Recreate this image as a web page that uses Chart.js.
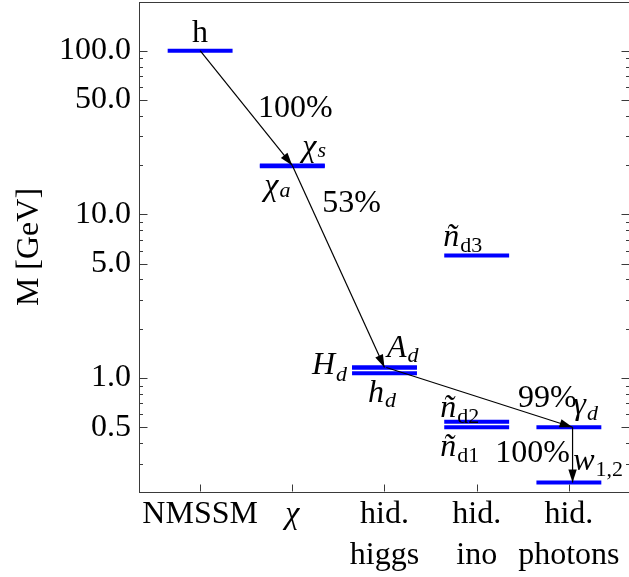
<!DOCTYPE html>
<html>
<head>
<meta charset="utf-8">
<script src="https://cdn.jsdelivr.net/npm/chart.js@4/dist/chart.umd.min.js"></script>
<style>
  html, body { margin: 0; padding: 0; background: #fff; overflow: hidden; width: 629px; height: 577px; }
  #wrap { width: 640px; height: 577px; position: relative; }
</style>
</head>
<body>
<div id="wrap"><canvas id="spectrum"></canvas></div>
<script>
// ---- data -------------------------------------------------------------
const sectors    = ['NMSSM', 'χ', ['hid.', 'higgs'], ['hid.', 'ino'], ['hid.', 'photons']];
const sectorPos  = [1, 2, 3, 4, 5];
const majorTicks = [0.5, 1, 5, 10, 50, 100];

// mass levels (GeV): sector index, mass, name [main, subscript, mainItalic, subItalic]
const levelSector = [0, 1, 1, 2, 2, 2, 3, 3, 3, 4, 4];
const levelMass   = [100, 19.9, 19.7, 1.16, 1.16, 1.07, 5.6, 0.54, 0.50, 0.50, 0.23];
const levelName   = [
  ['h', '', false, false],
  ['χ', 's', true, true],
  ['χ', 'a', true, true],
  ['H', 'd', true, true],
  ['A', 'd', true, true],
  ['h', 'd', true, true],
  ['ñ', 'd3', true, false],
  ['ñ', 'd2', true, false],
  ['ñ', 'd1', true, false],
  ['γ', 'd', true, true],
  ['w', '1,2', true, false]
];

// decay chain: parent level -> daughter level, branching ratio (%)
const decayFrom = [0, 1, 3, 9];
const decayTo   = [1, 3, 9, 10];
const branching = [100, 53, 99, 100];

// ---- layout / style ---------------------------------------------------
const SERIF = "'Liberation Serif', 'Times New Roman', 'DejaVu Serif', serif";
const BLUE = '#0000ff';
const FRAME = '#3a3a3a';
const BAR_HALF = 0.352;           // half length of a level bar, in sector units
// label offsets (px) from the bar centre to the text origin, plus subscript drop
const nameOffset = [
  [0, -9, 'center'], [10, -9, null, 1], [-28, 29, null, 2], [-72.5, 7, null, 7],
  [2.5, -10.5, null, 5], [-16.5, 29, null, 5],
  [-33.5, -10], [-36.5, -5], [-36.5, 28.5], [4.4, -13], [4.4, -12]
];
// ratio label offsets (px) from the parent bar centre
const ratioOffset = [[58, 66.3], [30, 47], [133.5, 39.5], [-73.6, 35]];
// small horizontal shift of the arrow ends (sector units): [start, end]
const arrowShift = [[0, 0], [0, 0], [0.02, 0.04], [0.04, 0.04]];

const levelX = i => sectorPos[levelSector[i]];

const datasets = [];
decayFrom.forEach((f, k) => {
  const t = decayTo[k];
  datasets.push({
    data: [{ x: levelX(f) + arrowShift[k][0], y: levelMass[f] },
           { x: levelX(t) + arrowShift[k][1], y: levelMass[t] }],
    borderColor: '#000', borderWidth: 1.2, pointRadius: 0, fill: false
  });
});
levelMass.forEach((m, i) => {
  datasets.push({
    data: [{ x: levelX(i) - BAR_HALF, y: m }, { x: levelX(i) + BAR_HALF, y: m }],
    borderColor: BLUE, borderWidth: 4, borderCapStyle: 'butt', pointRadius: 0, fill: false
  });
});

function drawRich(ctx, x, y, spec, align, drop) {
  const [main, sub, mi, si] = spec;
  const fMain = (mi ? 'italic ' : '') + '32px ' + SERIF;
  const fSub = (si ? 'italic ' : '') + '22px ' + SERIF;
  ctx.font = fMain;
  const w1 = ctx.measureText(main).width;
  let w2 = 0;
  if (sub) { ctx.font = fSub; w2 = ctx.measureText(sub).width; }
  const x0 = align === 'center' ? x - (w1 + w2) / 2 : x;
  ctx.textAlign = 'left';
  ctx.textBaseline = 'alphabetic';
  ctx.font = fMain;
  ctx.fillText(main, x0, y);
  if (sub) { ctx.font = fSub; ctx.fillText(sub, x0 + w1 + 1, y + (drop == null ? 6 : drop)); }
}

const decorations = {
  id: 'decorations',
  afterDatasetsDraw(chart) {
    const { ctx, scales: { x, y } } = chart;
    ctx.save();
    // arrow heads
    ctx.fillStyle = '#000';
    decayFrom.forEach((f, k) => {
      const t = decayTo[k];
      const x1 = x.getPixelForValue(levelX(f) + arrowShift[k][0]);
      const y1 = y.getPixelForValue(levelMass[f]);
      const x2 = x.getPixelForValue(levelX(t) + arrowShift[k][1]);
      const y2 = y.getPixelForValue(levelMass[t]);
      const ang = Math.atan2(y2 - y1, x2 - x1);
      const L = 13, W = 4.2;
      ctx.beginPath();
      ctx.moveTo(x2, y2);
      ctx.lineTo(x2 - L * Math.cos(ang) + W * Math.sin(ang), y2 - L * Math.sin(ang) - W * Math.cos(ang));
      ctx.lineTo(x2 - L * Math.cos(ang) - W * Math.sin(ang), y2 - L * Math.sin(ang) + W * Math.cos(ang));
      ctx.closePath();
      ctx.fill();
    });
    // level names
    ctx.fillStyle = '#000';
    levelMass.forEach((m, i) => {
      const px = x.getPixelForValue(levelX(i));
      const py = y.getPixelForValue(m);
      const [dx, dy, al, drop] = nameOffset[i];
      drawRich(ctx, px + dx, py + dy, levelName[i], al, drop);
    });
    // branching ratios
    decayFrom.forEach((f, k) => {
      const px = x.getPixelForValue(levelX(f));
      const py = y.getPixelForValue(levelMass[f]);
      drawRich(ctx, px + ratioOffset[k][0], py + ratioOffset[k][1], [branching[k] + '%', '', false, false]);
    });
    ctx.restore();
  },
  afterDraw(chart) {
    const { ctx, chartArea: a, scales: { x, y } } = chart;
    ctx.save();
    ctx.strokeStyle = FRAME;
    ctx.lineWidth = 1;
    const top = Math.round(a.top) + 0.5;
    const left = Math.round(a.left) + 0.5;
    const right = Math.round(a.right) - 0.5;
    const bottom = Math.round(a.bottom) - 0.5;
    ctx.beginPath();
    ctx.moveTo(left, top); ctx.lineTo(right, top);
    ctx.moveTo(right, top); ctx.lineTo(right, bottom);
    // inward ticks on the mass axes
    for (let e = -1; e <= 2; e++) {
      for (let n = 1; n <= 9; n++) {
        const v = n * Math.pow(10, e);
        if (v < y.min || v > y.max) continue;
        const major = majorTicks.some(t => Math.abs(t - v) < 1e-9);
        const len = major ? 8 : 3.5;
        const py = Math.round(y.getPixelForValue(v)) + 0.5;
        ctx.moveTo(left, py); ctx.lineTo(left + len, py);
        ctx.moveTo(right, py); ctx.lineTo(right - len, py);
      }
    }
    // inward ticks on the sector axis
    sectorPos.forEach(s => {
      const px = Math.round(x.getPixelForValue(s)) + 0.5;
      ctx.moveTo(px, bottom); ctx.lineTo(px, bottom - 7);
    });
    ctx.stroke();
    ctx.restore();
  }
};

new Chart(document.getElementById('spectrum'), {
  type: 'line',
  data: { datasets },
  plugins: [decorations],
  options: {
    responsive: true,
    maintainAspectRatio: false,
    animation: false,
    layout: { padding: { top: 2, right: 10, left: 0, bottom: 0 } },
    plugins: { legend: { display: false }, tooltip: { enabled: false } },
    scales: {
      x: {
        type: 'linear',
        min: 0.337, max: 5.663,
        grid: { display: false, drawTicks: false },
        border: { display: true, color: FRAME, width: 1 },
        afterBuildTicks: s => { s.ticks = sectorPos.map(v => ({ value: v })); },
        afterFit: s => { s.height = 85; s.paddingLeft = 0; s.paddingRight = 0; },
        ticks: {
          autoSkip: false, maxRotation: 0, minRotation: 0, padding: 2, color: '#000',
          font: ctx => ({ family: SERIF, size: 32, lineHeight: 1.28, style: ctx.index === 1 ? 'italic' : 'normal' }),
          callback: (v, i) => sectors[i]
        }
      },
      y: {
        type: 'logarithmic',
        min: 0.2012, max: 198.4,
        grid: { display: false, drawTicks: false },
        border: { display: true, color: FRAME, width: 1 },
        afterBuildTicks: s => { s.ticks = majorTicks.map(v => ({ value: v })); },
        afterFit: s => { s.width = 139; s.paddingTop = 0; s.paddingBottom = 0; },
        ticks: {
          padding: 8, color: '#000',
          font: { family: SERIF, size: 32 },
          callback: v => Number(v).toFixed(1)
        },
        title: {
          display: true, text: 'M [GeV]', color: '#000',
          font: { family: SERIF, size: 32, lineHeight: 1.2 },
          padding: { top: 10, bottom: 0 }
        }
      }
    }
  }
});
</script>
</body>
</html>
